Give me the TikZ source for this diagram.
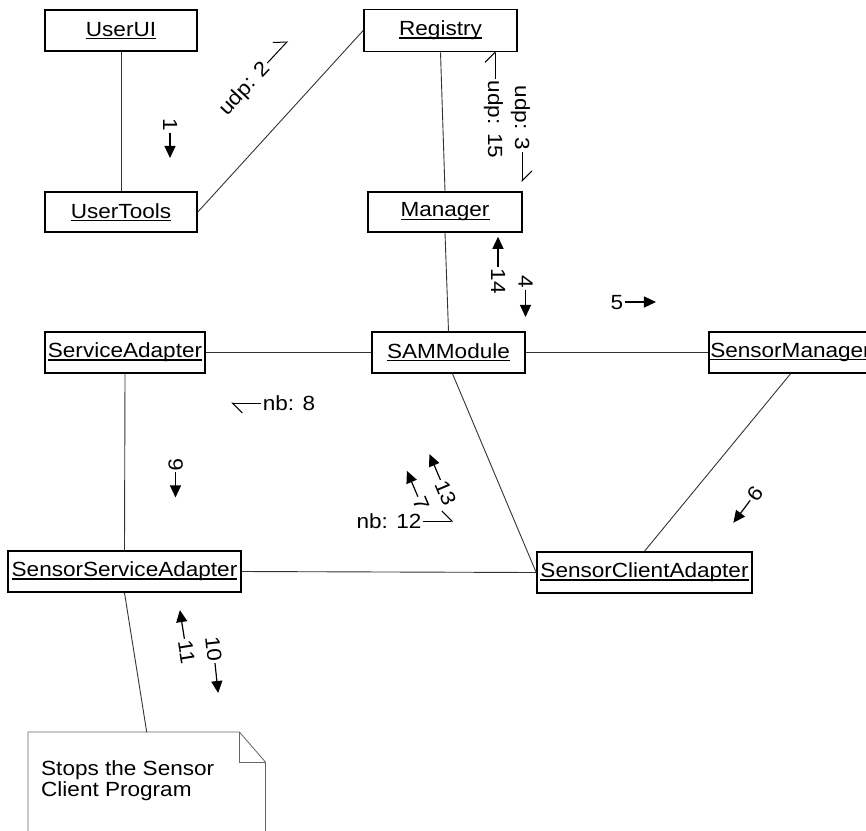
\documentclass[tikz,border=0pt]{standalone}
\usepackage{fontspec}
\setmainfont[FakeStretch=1.1]{Liberation Sans}
\usetikzlibrary{arrows.meta}

% underlined object name, rule at a fixed depth below the baseline
\newcommand{\utext}[1]{\setbox0=\hbox{#1}\rlap{\rule[-2.8pt]{\wd0}{1.2pt}}\box0}

\tikzset{
  diafont/.style={font=\fontsize{20.5}{21}\selectfont},
  obj/.style={draw, line width=1.6pt, inner sep=0pt, diafont},
  link/.style={line width=0.9pt, draw=black!80},
  lbl/.style={diafont, inner sep=1.5pt, text height=14pt, text depth=0pt},
  fwd/.style={line width=1.2pt, -{Triangle[length=12pt,width=11pt]}},
  harp/.style={line width=1pt, -{Straight Barb[left,length=10pt,width=20pt]}},
  notebox/.style={draw=black!60, line width=0.8pt},
}

\begin{document}
\begin{tikzpicture}[x=1pt, y=-1pt]
\useasboundingbox (0,0) rectangle (866,830);
\clip (0,0) rectangle (866,830);

% objects
\node[obj, minimum width=152pt, minimum height=41pt] (userui)    at (121,30.5)   {\utext{UserUI}};
\node[obj, minimum width=152pt, minimum height=40pt] (usertools) at (121,212)    {\utext{UserTools}};
\node[obj, minimum width=153pt, minimum height=42pt] (registry)  at (440.5,30.5) {\utext{Registry}};
\node[obj, minimum width=154pt, minimum height=40pt] (manager)   at (445,212)    {\utext{Manager}};
\node[obj, minimum width=153pt, minimum height=41pt] (sam)       at (448.5,352.5){\utext{SAMModule}};
\node[obj, minimum width=160pt, minimum height=41pt] (svcad)     at (125,352.5)  {\utext{ServiceAdapter}};
\node[obj, minimum width=163pt, minimum height=41pt] (smgr)      at (790.5,352.5){\utext{SensorManager}};
\node[obj, minimum width=233pt, minimum height=41pt] (ssa)       at (124.5,571.5){\utext{SensorServiceAdapter}};
\node[obj, minimum width=215pt, minimum height=41pt] (sca)       at (644.5,572.5){\utext{SensorClientAdapter}};

% note
\node[minimum width=237pt, minimum height=110pt, inner sep=0pt, anchor=north west] (note) at (28,732) {};
\draw[notebox, fill=white] (note.north west) -- ([xshift=-26pt]note.north east)
  -- ([yshift=-30pt]note.north east) -- (note.south east) -- (note.south west) -- cycle;
\draw[notebox] ([xshift=-26pt]note.north east) |- ([yshift=-30pt]note.north east);
\node[diafont, anchor=north west, align=left, inner sep=0pt] (notetext) at (41,760)
  {Stops the Sensor\\Client Program};

% links
\draw[link] (userui.south) -- (usertools.north);
\draw[link] (usertools.east) -- (registry.west);
\draw[link] (registry.south) -- (manager.north);
\draw[link] (manager.south) -- (sam.north);
\draw[link] (svcad.east) -- (sam.west);
\draw[link] (sam.east) -- (smgr.west);
\draw[link] (svcad.south) -- (ssa.north);
\draw[link] (ssa.east) -- (sca.west);
\draw[link] ([xshift=4pt]sam.south) -- (sca.west);
\draw[link] (smgr.south) -- (sca.north);
\draw[link] (ssa.south) -- (note.north);

% messages
\begin{scope}[shift={(170,125)}, rotate=-90, transform shape]
  \node[lbl] (m1) at (0,0) {1};
  \draw[fwd] (m1.east) -- ++(25pt,0pt);
\end{scope}
\begin{scope}[shift={(244,88)}, rotate=47, transform shape]
  \node[lbl] (m2) at (0,0) {udp: 2};
  \draw[harp] (m2.east) -- ++(30pt,0pt);
\end{scope}
\begin{scope}[shift={(522,118)}, rotate=-90, transform shape]
  \node[lbl] (m3) at (0,0) {udp: 3};
  \draw[harp] (m3.east) -- ++(30pt,0pt);
\end{scope}
\begin{scope}[shift={(495,119.5)}, rotate=-90, transform shape]
  \node[lbl] (m15) at (0,0) {udp: 15};
  \draw[harp] (m15.west) -- ++(-28pt,0pt);
\end{scope}
\begin{scope}[shift={(525.5,282)}, rotate=-90, transform shape]
  \node[lbl] (m4) at (0,0) {4};
  \draw[fwd] (m4.east) -- ++(27pt,0pt);
\end{scope}
\begin{scope}[shift={(498,281)}, rotate=-90, transform shape]
  \node[lbl] (m14) at (0,0) {14};
  \draw[fwd] (m14.west) -- ++(-30pt,0pt);
\end{scope}
\begin{scope}[shift={(617,302)}, transform shape]
  \node[lbl] (m5) at (0,0) {5};
  \draw[fwd] (m5.east) -- ++(31pt,0pt);
\end{scope}
\begin{scope}[shift={(289,403)}, transform shape]
  \node[lbl] (m8) at (0,0) {nb: 8};
  \draw[harp] (m8.west) -- ++(-30pt,0pt);
\end{scope}
\begin{scope}[shift={(175.5,464.5)}, rotate=-90, transform shape]
  \node[lbl] (m9a) at (0,0) {9};
  \draw[fwd] (m9a.east) -- ++(25pt,0pt);
\end{scope}
\begin{scope}[shift={(755,494)}, rotate=-127, transform shape]
  \node[lbl] (m9b) at (0,0) {9};
  \draw[fwd] (m9b.east) -- ++(28pt,0pt);
\end{scope}
\begin{scope}[shift={(446,493)}, rotate=-67, transform shape]
  \node[lbl] (m13) at (0,0) {13};
  \draw[fwd] (m13.west) -- ++(-28pt,0pt);
\end{scope}
\begin{scope}[shift={(421,504)}, rotate=-67, transform shape]
  \node[lbl] (m7) at (0,0) {7};
  \draw[fwd] (m7.west) -- ++(-28pt,0pt);
\end{scope}
\begin{scope}[shift={(389,521)}, transform shape]
  \node[lbl] (m12) at (0,0) {nb: 12};
  \draw[harp] (m12.east) -- ++(30pt,0pt);
\end{scope}
\begin{scope}[shift={(213.5,649)}, rotate=-84, transform shape]
  \node[lbl] (m10) at (0,0) {10};
  \draw[fwd] (m10.east) -- ++(30pt,0pt);
\end{scope}
\begin{scope}[shift={(186.5,652)}, rotate=-81, transform shape]
  \node[lbl] (m11) at (0,0) {11};
  \draw[fwd] (m11.west) -- ++(-29pt,0pt);
\end{scope}
\end{tikzpicture}
\end{document}
